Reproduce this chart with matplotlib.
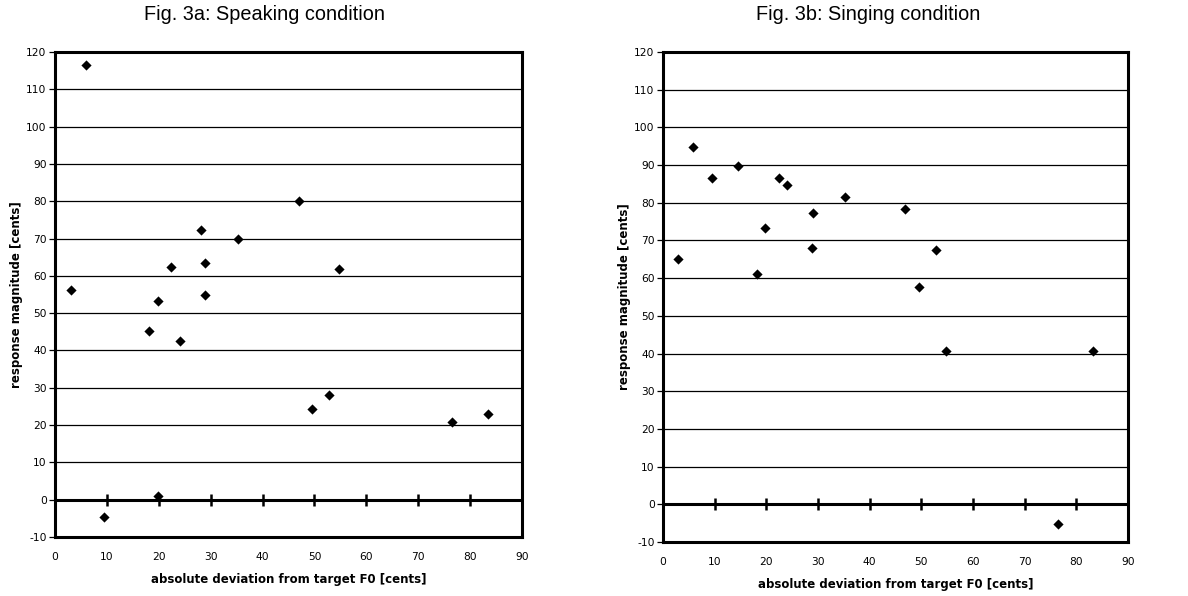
import matplotlib.pyplot as plt

# absolute deviation from target F0 [cents] / response magnitude [cents]
speak_dev = [3.0, 5.9, 9.4, 18.1, 19.9, 19.9, 22.4, 24.0, 28.1, 29.0, 29.0,
             35.3, 47.0, 49.6, 52.8, 54.8, 76.6, 83.4]
speak_resp = [56.3, 116.6, -4.6, 45.2, 53.2, 0.9, 62.5, 42.5, 72.2, 63.5, 54.9,
              69.8, 80.1, 24.4, 28.1, 61.8, 20.8, 22.9]

sing_dev = [2.9, 5.8, 9.4, 14.5, 18.1, 19.7, 22.4, 24.0, 28.9, 29.0, 35.3,
            46.9, 49.5, 52.8, 54.7, 76.5, 83.3]
sing_resp = [65.0, 94.7, 86.6, 89.7, 61.2, 73.4, 86.6, 84.6, 67.9, 77.2, 81.6,
             78.3, 57.6, 67.6, 40.7, -5.1, 40.6]

titles = ["Fig. 3a: Speaking condition", "Fig. 3b: Singing condition"]
x_label = "absolute deviation from target F0 [cents]"
y_label = "response magnitude [cents]"
x_ticks = list(range(0, 91, 10))
y_ticks = list(range(-10, 121, 10))

TICK_FONT = "DejaVu Sans"
plt.rcParams["axes.unicode_minus"] = False

fig = plt.figure(figsize=(11.88, 5.96), dpi=100)
boxes = [[0.0463, 0.0990, 0.3931, 0.8138], [0.5581, 0.0906, 0.3914, 0.8221]]
title_x = [264 / 1188, 868 / 1188]

for box, tx, title, xs, ys in zip(boxes, title_x, titles,
                                  [speak_dev, sing_dev], [speak_resp, sing_resp]):
    ax = fig.add_axes(box)
    ax.set_xlim(0, 90)
    ax.set_ylim(-10, 120)
    ax.set_xticks(x_ticks)
    ax.set_yticks(y_ticks)
    for t in y_ticks:
        if t not in (-10, 0, 120):
            ax.axhline(t, color="black", lw=0.9, zorder=1)
    ax.axhline(0, color="black", lw=2.2, zorder=2)
    ax.scatter(xs, ys, marker="D", s=27, color="black", zorder=4, linewidths=0)

    for sp in ax.spines.values():
        sp.set_linewidth(2.2)
    ax.tick_params(axis="x", length=0, pad=11, labelsize=7.7)
    ax.tick_params(axis="y", length=4, width=0.9, direction="out", pad=2,
                   labelsize=7.7)
    for lab in ax.get_xticklabels() + ax.get_yticklabels():
        lab.set_fontfamily(TICK_FONT)

    # crossing tick marks on the zero line
    sec = ax.secondary_xaxis(0, transform=ax.transData)
    sec.set_xticks(x_ticks[1:-1])
    sec.tick_params(direction="inout", length=9, width=1.8, labelbottom=False)
    sec.spines["bottom"].set_visible(False)

    ax.set_xlabel(x_label, fontsize=8.5, fontweight="bold", labelpad=8,
                  fontfamily=TICK_FONT)
    ax.set_ylabel(y_label, fontsize=8.5, fontweight="bold", labelpad=2,
                  fontfamily=TICK_FONT)
    fig.text(tx, 1 - 14 / 596, title, ha="center", va="center", fontsize=14.3,
             fontfamily="Liberation Sans")

fig.savefig("out.png", dpi=100)
